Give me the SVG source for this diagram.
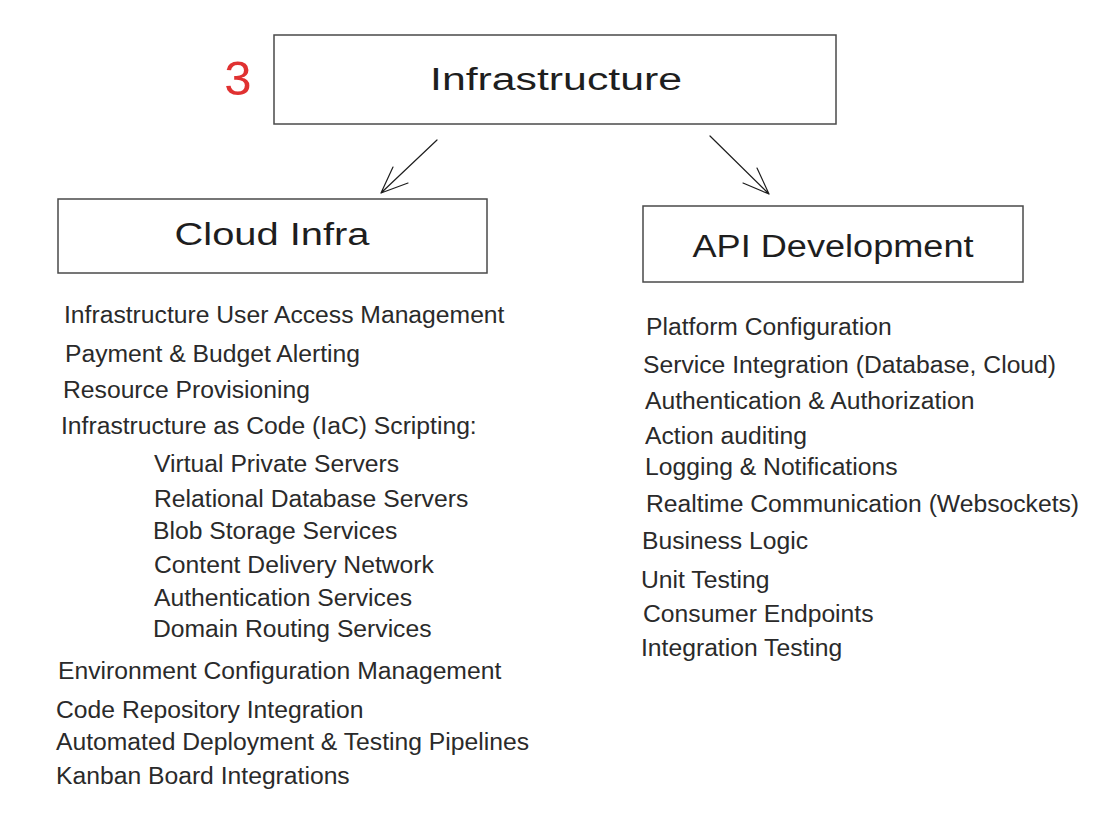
<svg xmlns="http://www.w3.org/2000/svg" width="1111" height="831" viewBox="0 0 1111 831">
<style>
.box{fill:#ffffff;stroke:#4a4a4a;stroke-width:1.5}
.hand{font-family:"Liberation Sans","DejaVu Sans",sans-serif;fill:#1e1e1e;text-anchor:middle;font-size:31px}
.item{font-family:"Liberation Sans",Arial,sans-serif;font-size:24.7px;fill:#2a2a2a}
.conn{fill:none;stroke:#1e1e1e;stroke-width:1.2;stroke-linecap:round;stroke-linejoin:round}
</style>
<rect width="1111" height="831" fill="#ffffff"/>
<text x="238" y="95" font-family="'Liberation Sans',Arial,sans-serif" font-size="49" fill="#e03131" text-anchor="middle">3</text>
<g id="node-infrastructure">
<rect class="box" x="274" y="35" width="562" height="89"/>
<text class="hand" x="556" y="90" textLength="252" lengthAdjust="spacingAndGlyphs">Infrastructure</text>
</g>
<g id="node-cloud-infra">
<rect class="box" x="58" y="199" width="429" height="74"/>
<text class="hand" x="272" y="245" textLength="195" lengthAdjust="spacingAndGlyphs">Cloud Infra</text>
</g>
<g id="node-api-development">
<rect class="box" x="643" y="206" width="380" height="76"/>
<text class="hand" x="833" y="257" textLength="281" lengthAdjust="spacingAndGlyphs">API Development</text>
</g>
<g id="connectors">
<path class="conn" d="M437 140 L381 193 M393 167 L381 193 L408 183"/>
<path class="conn" d="M710 136 L769 194 M757 168 L769 194 L743 183"/>
</g>
<g id="cloud-infra-items">
<text class="item" x="64" y="323">Infrastructure User Access Management</text>
<text class="item" x="65" y="362">Payment &amp; Budget Alerting</text>
<text class="item" x="63" y="398">Resource Provisioning</text>
<text class="item" x="61" y="434">Infrastructure as Code (IaC) Scripting:</text>
<text class="item" x="154" y="472">Virtual Private Servers</text>
<text class="item" x="154" y="507">Relational Database Servers</text>
<text class="item" x="153" y="539">Blob Storage Services</text>
<text class="item" x="154" y="573">Content Delivery Network</text>
<text class="item" x="154" y="606">Authentication Services</text>
<text class="item" x="153" y="637">Domain Routing Services</text>
<text class="item" x="58" y="679">Environment Configuration Management</text>
<text class="item" x="56" y="718">Code Repository Integration</text>
<text class="item" x="56" y="750">Automated Deployment &amp; Testing Pipelines</text>
<text class="item" x="56" y="784">Kanban Board Integrations</text>
</g>
<g id="api-development-items">
<text class="item" x="646" y="335">Platform Configuration</text>
<text class="item" x="643" y="373">Service Integration (Database, Cloud)</text>
<text class="item" x="645" y="409">Authentication &amp; Authorization</text>
<text class="item" x="645" y="444">Action auditing</text>
<text class="item" x="645" y="475">Logging &amp; Notifications</text>
<text class="item" x="646" y="512">Realtime Communication (Websockets)</text>
<text class="item" x="642" y="549">Business Logic</text>
<text class="item" x="641" y="588">Unit Testing</text>
<text class="item" x="643" y="622">Consumer Endpoints</text>
<text class="item" x="641" y="656">Integration Testing</text>
</g>
</svg>
